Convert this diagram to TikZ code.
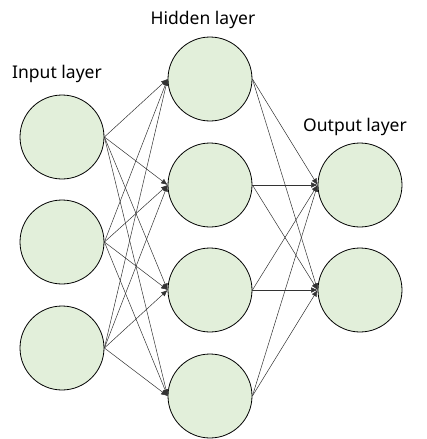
\documentclass[tikz,border=0pt]{standalone}
\usepackage{fontspec}
\setmainfont{Noto Sans}
\usetikzlibrary{arrows.meta}
\definecolor{nodegreen}{HTML}{E2EFDA}

\begin{document}
\begin{tikzpicture}[x=1pt,y=-1pt,
        neuron/.style={circle,draw,thick,fill=nodegreen,minimum size=84pt,inner sep=0pt},
        layer/.style={font=\fontsize{17.5}{20}\selectfont},
        edge/.style={draw=black!80,line width=0.5pt,-{Latex[length=6.5pt,width=5.5pt]}}]

    \useasboundingbox (0,0) rectangle (427,439);

    \node[layer] (inlabel) at (57,74) {Input layer};
    \node[layer] (hidlabel) at (203,20) {Hidden layer};
    \node[layer] (outlabel) at (355,127) {Output layer};

    \node[neuron] (i1) at (62,137) {};
    \node[neuron] (i2) at (62,242) {};
    \node[neuron] (i3) at (62,348) {};

    \node[neuron] (h1) at (210,79) {};
    \node[neuron] (h2) at (210,185) {};
    \node[neuron] (h3) at (210,290) {};
    \node[neuron] (h4) at (210,396) {};

    \node[neuron] (o1) at (360,185) {};
    \node[neuron] (o2) at (360,290) {};

    \draw[edge] (i1.east) -- (h1.west);
    \draw[edge] (i1.east) -- (h2.west);
    \draw[edge] (i1.east) -- (h3.west);
    \draw[edge] (i1.east) -- (h4.west);
    \draw[edge] (i2.east) -- (h1.west);
    \draw[edge] (i2.east) -- (h2.west);
    \draw[edge] (i2.east) -- (h3.west);
    \draw[edge] (i2.east) -- (h4.west);
    \draw[edge] (i3.east) -- (h1.west);
    \draw[edge] (i3.east) -- (h2.west);
    \draw[edge] (i3.east) -- (h3.west);
    \draw[edge] (i3.east) -- (h4.west);

    \draw[edge] (h1.east) -- (o1.west);
    \draw[edge] (h1.east) -- (o2.west);
    \draw[edge] (h2.east) -- (o1.west);
    \draw[edge] (h2.east) -- (o2.west);
    \draw[edge] (h3.east) -- (o1.west);
    \draw[edge] (h3.east) -- (o2.west);
    \draw[edge] (h4.east) -- (o1.west);
    \draw[edge] (h4.east) -- (o2.west);
\end{tikzpicture}
\end{document}
